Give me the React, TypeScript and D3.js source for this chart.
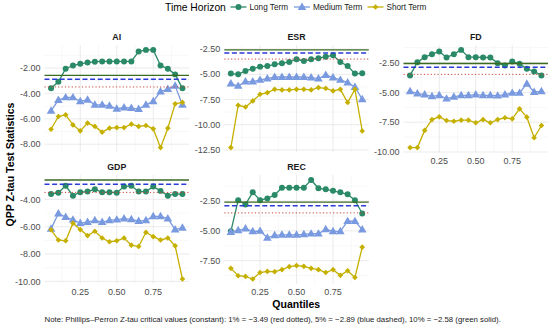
import React from 'react';
import * as d3 from 'd3';

// quantile grid (x) shared by every panel
const quantiles = [0.05, 0.1, 0.15, 0.2, 0.25, 0.3, 0.35, 0.4, 0.45, 0.5, 0.55, 0.6, 0.65, 0.7, 0.75, 0.8, 0.85, 0.9, 0.95];
const xTicks = [0.25, 0.5, 0.75];
const xMinor = [0.125, 0.375, 0.625, 0.875];

const seriesNames = ['Long Term', 'Medium Term', 'Short Term'];
const seriesColors = ['#2A8966', '#7A9AE0', '#C5B000'];

// QPP Z-tau statistics
const aiLong = [-3.6, -3.08, -2.05, -1.8, -1.67, -1.57, -1.5, -1.48, -1.48, -1.48, -1.48, -1.48, -0.7, -0.57, -0.57, -1.8, -2.05, -2.5, -3.6];
const aiMedium = [-5.37, -4.53, -4.32, -4.32, -4.63, -4.5, -4.9, -4.9, -4.98, -5.21, -5.11, -5.16, -5.24, -4.9, -4.63, -3.85, -3.66, -3.4, -4.9];
const aiShort = [-6.82, -5.82, -5.69, -6.48, -6.95, -6.34, -6.6, -7.05, -6.74, -6.69, -6.69, -6.42, -6.6, -6.53, -6.79, -8.27, -6.74, -4.82, -4.71];

const esrLong = [-4.93, -5.0, -4.67, -4.44, -4.24, -4.18, -4.01, -3.91, -3.78, -3.51, -3.68, -3.51, -3.41, -3.25, -3.12, -3.78, -4.18, -4.93, -4.9];
const esrMedium = [-5.92, -6.16, -5.73, -5.73, -5.56, -5.43, -5.27, -5.27, -5.27, -5.27, -5.27, -5.33, -5.43, -5.07, -5.33, -5.56, -5.83, -6.26, -7.48];
const esrShort = [-12.27, -8.07, -8.24, -7.64, -6.98, -6.82, -6.49, -6.55, -6.55, -6.49, -6.49, -6.55, -6.32, -6.39, -6.65, -6.49, -7.8, -6.49, -10.62];

const fdLong = [-3.58, -2.47, -2.05, -1.8, -1.58, -2.08, -1.8, -1.44, -2.05, -2.05, -2.08, -2.08, -2.55, -2.75, -2.42, -2.61, -3.03, -3.25, -3.58];
const fdMedium = [-4.92, -5.11, -5.19, -5.33, -5.25, -5.53, -5.38, -5.25, -5.25, -5.19, -5.25, -5.25, -5.28, -5.19, -5.05, -5.05, -4.28, -4.97, -4.92];
const fdShort = [-9.63, -9.63, -8.19, -7.28, -7.05, -7.36, -7.42, -7.33, -7.33, -7.55, -7.28, -7.55, -7.28, -7.13, -7.22, -6.38, -7.08, -8.8, -7.78];

const gdpLong = [-3.61, -3.51, -3.01, -3.73, -3.48, -3.43, -3.26, -3.48, -3.48, -3.51, -3.06, -3.01, -3.43, -3.43, -3.06, -3.38, -3.73, -3.61, -3.61];
const gdpMedium = [-6.16, -5.04, -5.29, -5.49, -5.74, -5.66, -5.54, -5.66, -5.54, -5.49, -5.41, -5.46, -5.59, -5.54, -5.24, -5.24, -5.41, -6.21, -6.08];
const gdpShort = [-6.23, -6.97, -7.03, -5.74, -6.21, -6.65, -6.33, -6.83, -7.1, -7.03, -6.83, -7.35, -7.45, -6.41, -6.73, -6.97, -6.83, -7.4, -9.83];

const recLong = [-5.04, -2.42, -2.78, -1.76, -2.42, -2.27, -1.99, -1.37, -1.37, -1.37, -1.37, -0.72, -1.42, -1.51, -1.63, -1.76, -1.93, -2.42, -3.54];
const recMedium = [-5.1, -4.96, -4.81, -5.04, -5.01, -5.58, -5.38, -5.33, -5.33, -5.33, -5.3, -5.24, -5.24, -4.87, -5.04, -5.04, -4.19, -4.19, -4.9];
const recShort = [-8.15, -8.77, -8.83, -9.05, -8.5, -8.41, -8.43, -8.26, -8.01, -7.92, -7.98, -8.15, -8.26, -8.5, -8.26, -8.74, -8.35, -8.92, -6.37];

// y tick labels per panel
const aiTicks = [-2, -4, -6, -8];
const esrTicks = [-2.5, -5, -7.5, -10, -12.5];
const fdTicks = [-2.5, -5, -7.5, -10];
const gdpTicks = [-4, -6, -8, -10];
const recTicks = [-2.5, -5, -7.5];

// Phillips-Perron critical values: 1%, 5%, 10%
const critValues = [-3.49, -2.89, -2.58];
const critStyles = [
  { color: '#C8463A', width: 1, dash: '1.2,2.2' },
  { color: '#2A3BD6', width: 1.5, dash: '5,2.6' },
  { color: '#3B6A22', width: 1.4, dash: '' },
];

const panels = [
  { name: 'AI', series: [aiLong, aiMedium, aiShort], ticks: aiTicks, col: 0, row: 0, showX: false },
  { name: 'ESR', series: [esrLong, esrMedium, esrShort], ticks: esrTicks, col: 1, row: 0, showX: false },
  { name: 'FD', series: [fdLong, fdMedium, fdShort], ticks: fdTicks, col: 2, row: 0, showX: true },
  { name: 'GDP', series: [gdpLong, gdpMedium, gdpShort], ticks: gdpTicks, col: 0, row: 1, showX: true },
  { name: 'REC', series: [recLong, recMedium, recShort], ticks: recTicks, col: 1, row: 1, showX: true },
];

const W = 550;
const H = 325;
const colLeft = [44.5, 224.3, 403.5];
const colWidth = 144.5;
const rowRange = [[45, 152.5], [175, 284]];
const font = '"Liberation Sans", Arial, Helvetica, sans-serif';

const fmt = (v: number) => v.toFixed(2);

const circle = d3.symbol().type(d3.symbolCircle).size(28)();
const triangle = d3.symbol().type(d3.symbolTriangle).size(32)();
const diamond = d3.symbol().type(d3.symbolSquare).size(16)();

const Marker: React.FC<{ kind: number; x: number; y: number; color: string }> = ({ kind, x, y, color }) => {
  if (kind === 0) return <path d={circle as string} transform={`translate(${x},${y})`} fill={color} />;
  if (kind === 1) return <path d={triangle as string} transform={`translate(${x},${y + 0.4})`} fill={color} />;
  return <path d={diamond as string} transform={`translate(${x},${y}) rotate(45)`} fill={color} />;
};

const Panel: React.FC<{ p: typeof panels[number] }> = ({ p }) => {
  const left = colLeft[p.col];
  const [top, bottom] = rowRange[p.row];

  const x = d3.scaleLinear().domain([0.005, 0.995]).range([left, left + colWidth]);

  const all = [...p.series.flat(), ...critValues];
  const [lo, hi] = d3.extent(all) as [number, number];
  const pad = (hi - lo) * 0.05;
  const y = d3.scaleLinear().domain([lo - pad, hi + pad]).range([bottom, top]);

  const step = Math.abs(p.ticks[1] - p.ticks[0]);
  const minorY: number[] = [];
  const tMax = d3.max(p.ticks) as number;
  const tMin = d3.min(p.ticks) as number;
  for (let v = tMin - step / 2; v <= tMax + step / 2 + 1e-9; v += step) {
    if (v >= lo - pad && v <= hi + pad) minorY.push(v);
  }

  const line = d3.line<number>()
    .x((_, i) => x(quantiles[i]))
    .y(d => y(d));

  return (
    <g>
      {/* grid */}
      {minorY.map(v => (
        <line key={'my' + v} x1={left} x2={left + colWidth} y1={y(v)} y2={y(v)} stroke="#F0F0F0" strokeWidth={0.5} />
      ))}
      {xMinor.map(v => (
        <line key={'mx' + v} x1={x(v)} x2={x(v)} y1={top} y2={bottom} stroke="#F0F0F0" strokeWidth={0.5} />
      ))}
      {p.ticks.map(v => (
        <line key={'gy' + v} x1={left} x2={left + colWidth} y1={y(v)} y2={y(v)} stroke="#E6E6E6" strokeWidth={0.8} />
      ))}
      {xTicks.map(v => (
        <line key={'gx' + v} x1={x(v)} x2={x(v)} y1={top} y2={bottom} stroke="#E6E6E6" strokeWidth={0.8} />
      ))}

      {/* series */}
      {p.series.map((s, si) => (
        <g key={si}>
          <path d={line(s) as string} fill="none" stroke={seriesColors[si]} strokeWidth={1.3} />
          {s.map((v, i) => (
            <Marker key={i} kind={si} x={x(quantiles[i])} y={y(v)} color={seriesColors[si]} />
          ))}
        </g>
      ))}

      {/* critical value lines */}
      {critValues.map((v, i) => (
        <line key={'c' + i} x1={left} x2={left + colWidth} y1={y(v)} y2={y(v)}
          stroke={critStyles[i].color} strokeWidth={critStyles[i].width}
          strokeDasharray={critStyles[i].dash || undefined} />
      ))}

      {/* strip title */}
      <text x={left + colWidth / 2} y={top - 5} textAnchor="middle" fontSize={8.8} fontWeight="bold" fill="#1A1A1A">{p.name}</text>

      {/* y tick labels */}
      {p.ticks.map(v => (
        <text key={'ty' + v} x={left - 4} y={y(v)} dy="0.35em" textAnchor="end" fontSize={9} fill="#4D4D4D">{fmt(v)}</text>
      ))}

      {/* x tick labels */}
      {p.showX && xTicks.map(v => (
        <text key={'tx' + v} x={x(v)} y={bottom + 8} dy="0.35em" textAnchor="middle" fontSize={9} fill="#4D4D4D">{fmt(v)}</text>
      ))}
    </g>
  );
};

const legendX = [238.5, 302, 375.5];

const App: React.FC = () => {
  return (
    <svg width={W} height={H} style={{ position: 'absolute', left: 0, top: 0, background: 'white' }} fontFamily={font}>
      {/* legend */}
      <text x={165} y={7} dy="0.35em" fontSize={10.3} fill="#000">Time Horizon</text>
      {seriesNames.map((name, i) => (
        <g key={name}>
          <line x1={legendX[i] - 8} x2={legendX[i] + 8} y1={7} y2={7} stroke={seriesColors[i]} strokeWidth={1.3} />
          <Marker kind={i} x={legendX[i]} y={7} color={seriesColors[i]} />
          <text x={legendX[i] + 11} y={7} dy="0.35em" fontSize={8.2} fill="#1A1A1A">{name}</text>
        </g>
      ))}

      {panels.map(p => <Panel key={p.name} p={p} />)}

      {/* axis titles */}
      <text x={(colLeft[0] + colLeft[2] + colWidth) / 2} y={304} dy="0.35em" textAnchor="middle" fontSize={10.5} fontWeight="bold" fill="#000">Quantiles</text>
      <text transform={`translate(10,${(rowRange[0][0] + rowRange[1][1]) / 2}) rotate(-90)`} dy="0.35em" textAnchor="middle" fontSize={10.5} fontWeight="bold" fill="#000">QPP Z-tau Test Statistics</text>

      {/* caption */}
      <text x={colLeft[0]} y={319} dy="0.35em" fontSize={7.8} fill="#1A1A1A">
        Note: Phillips–Perron Z-tau critical values (constant): 1% = −3.49 (red dotted), 5% = −2.89 (blue dashed), 10% = −2.58 (green solid).
      </text>
    </svg>
  );
};

export default App;
